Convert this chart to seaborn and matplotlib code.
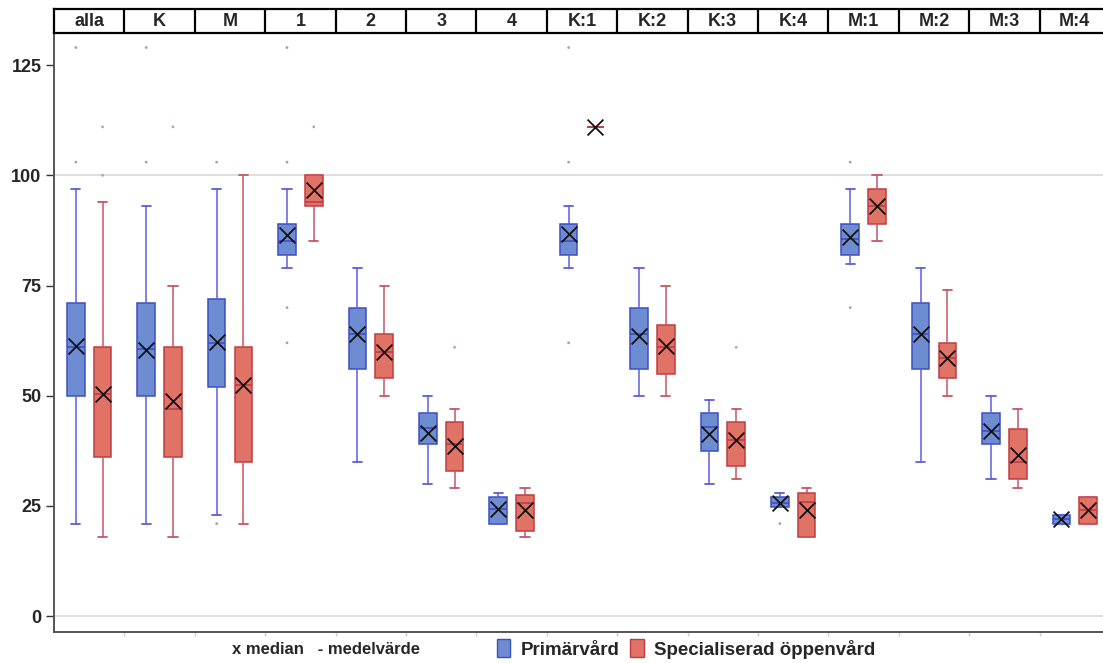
import numpy as np
import pandas as pd
import matplotlib
matplotlib.use('Agg')
import matplotlib.pyplot as plt
import matplotlib.patches as mpatches
import seaborn as sns

groups = ["alla", "K", "M", "1", "2", "3", "4", "K:1", "K:2", "K:3", "K:4", "M:1", "M:2", "M:3", "M:4"]
types = ["Primärvård", "Specialiserad öppenvård"]

# Primärvård
p_q1 = [50, 50, 52, 82, 56, 39, 21, 82, 56, 37.5, 24.7, 82, 56, 39, 21]
p_q3 = [71, 71, 72, 89, 70, 46, 27, 89, 70, 46, 27, 89, 71, 46, 23]
p_lo = [21, 21, 23, 79, 35, 30, 21, 79, 50, 30, 24.7, 80, 35, 31, 21]
p_hi = [97, 93, 97, 97, 79, 50, 28, 93, 79, 49, 28, 97, 79, 50, 23]
p_median = [61.2, 60.4, 62.2, 86.4, 64, 41.6, 24.3, 86.8, 63.5, 41.3, 25.6, 86, 64, 42, 22]
p_mean = [61, 60.5, 62, 85, 64, 42.7, 24.3, 85, 64, 43, 25.6, 85.5, 64, 42, 22]
p_out = [[129, 103], [129, 103], [103, 21], [129, 103, 70, 62], [], [], [],
         [129, 103, 62], [], [], [21], [103, 70], [], [], []]

# Specialiserad öppenvård
s_q1 = [36, 36, 35, 93, 54, 33, 19.3, 111, 55, 34, 18, 89, 54, 31, 21]
s_q3 = [61, 61, 61, 100, 64, 44, 27.5, 111, 66, 44, 28, 97, 62, 42.4, 27]
s_lo = [18, 18, 21, 85, 50, 29, 18, 111, 50, 31, 18, 85, 50, 29, 21]
s_hi = [94, 75, 100, 100, 75, 47, 29, 111, 75, 47, 29, 100, 74, 47, 27]
s_median = [50.3, 48.8, 52.4, 96.6, 60, 38.6, 24, 111, 61.2, 40, 24, 93, 58.5, 36.5, 24]
s_mean = [50.5, 47, 52.5, 94, 60, 39, 25.6, 111, 61, 40, 26, 93, 58.5, 35, 24]
s_out = [[111, 100], [111], [], [111], [], [61], [], [], [], [61], [], [], [], [], []]

yticks = [0, 25, 50, 75, 100, 125]
ref_lines = [0, 100]

sns.set_style('white')
plt.rcParams['font.family'] = ['Liberation Sans', 'DejaVu Sans']
plt.rcParams['font.weight'] = 'bold'

fig = plt.figure(figsize=(11.03, 6.63), dpi=100)
ax = fig.add_axes([54 / 1103, 31 / 663, (1110 - 54) / 1103, (632 - 33) / 663])
sax = fig.add_axes([54 / 1103, 630 / 663, (1110 - 54) / 1103, 24 / 663])

face = {"Primärvård": "#6e8cd2", "Specialiserad öppenvård": "#e07366"}
edge = {"Primärvård": "#3c4ec4", "Specialiserad öppenvård": "#bf3c44"}
whisk = {"Primärvård": "#5c5ee0", "Specialiserad öppenvård": "#c85563"}
offs = {"Primärvård": -0.19, "Specialiserad öppenvård": 0.19}

series = {
    "Primärvård": (p_q1, p_q3, p_lo, p_hi, p_mean),
    "Specialiserad öppenvård": (s_q1, s_q3, s_lo, s_hi, s_mean),
}

for ref in ref_lines:
    ax.axhline(ref, color="#dcdcdc", lw=1.3, zorder=0)

idx = np.arange(len(groups))
for t in types:
    q1, q3, lo, hi, mn = series[t]
    stats = [dict(q1=a, q3=b, whislo=c, whishi=d, med=e, fliers=[])
             for a, b, c, d, e in zip(q1, q3, lo, hi, mn)]
    ax.bxp(stats, positions=idx + offs[t], widths=0.25, patch_artist=True,
           showfliers=False, manage_ticks=False, capwidths=0.13,
           boxprops=dict(facecolor=face[t], edgecolor=edge[t], lw=1.1),
           whiskerprops=dict(color=whisk[t], lw=1.1),
           capprops=dict(color=whisk[t], lw=1.3),
           medianprops=dict(color=edge[t], lw=1.2))

# median markers
med_df = pd.DataFrame({
    "group": groups * 2,
    "typ": [types[0]] * len(groups) + [types[1]] * len(groups),
    "median": p_median + s_median,
})
med_df["pos"] = med_df["group"].map({g: i for i, g in enumerate(groups)}) + med_df["typ"].map(offs)
sns.scatterplot(data=med_df, x="pos", y="median", marker="x", s=130, color="#111111",
                linewidth=1.3, ax=ax, legend=False, zorder=5)

# outliers
rows = []
for t, outs in zip(types, [p_out, s_out]):
    for g, vals in zip(groups, outs):
        for v in vals:
            rows.append((g, t, v))
out_df = pd.DataFrame(rows, columns=["group", "typ", "value"])
out_df["pos"] = out_df["group"].map({g: i for i, g in enumerate(groups)}) + out_df["typ"].map(offs)
sns.scatterplot(data=out_df, x="pos", y="value", hue="typ",
                palette={types[0]: "#9aa0c8", types[1]: "#bba0a6"},
                s=4, linewidth=0, ax=ax, legend=False, zorder=4)

ax.set_xlim(-0.5, len(groups) - 0.5)
ax.set_ylim(-3.6, 132.3)
ax.set_yticks(yticks)
ax.set_yticklabels([str(v) for v in yticks], fontsize=13, fontweight='bold')
ax.set_xticks(idx[:-1] + 0.5)
ax.set_xticklabels([])
ax.tick_params(axis='y', length=6, width=1, color='#333333', pad=3, left=True)
ax.tick_params(axis='x', length=3, width=1, color='#cccccc', bottom=True)
ax.set_xlabel("")
ax.set_ylabel("")
for side in ['top', 'right']:
    ax.spines[side].set_visible(False)
for side in ['left', 'bottom']:
    ax.spines[side].set_color('#555555')
    ax.spines[side].set_linewidth(1.4)

# header strip
sax.set_xlim(-0.5, len(groups) - 0.5)
sax.set_ylim(0, 1)
sax.set_xticks([])
sax.set_yticks([])
for b in idx[:-1] + 0.5:
    sax.axvline(b, color='black', lw=1.6)
for i, g in enumerate(groups):
    sax.text(i, 0.47, g, ha='center', va='center', fontsize=13, fontweight='bold')
for side in sax.spines:
    sax.spines[side].set_color('black')
    sax.spines[side].set_linewidth(1.6)

# legend
fig.text(232 / 1103, 1 - 649 / 663, "x median   - medelvärde", ha='left', va='center',
         fontsize=12, fontweight='bold')
handles = [mpatches.Patch(facecolor=face[t], edgecolor=edge[t], lw=1) for t in types]
fig.legend(handles, types, loc='center left', bbox_to_anchor=(480 / 1103, 1 - 649 / 663),
           ncol=2, frameon=False, handlelength=0.7, handleheight=1.1,
           columnspacing=0.6, handletextpad=0.55, prop=dict(size=13.5, weight='bold'))

fig.savefig('out.png', dpi=100)
